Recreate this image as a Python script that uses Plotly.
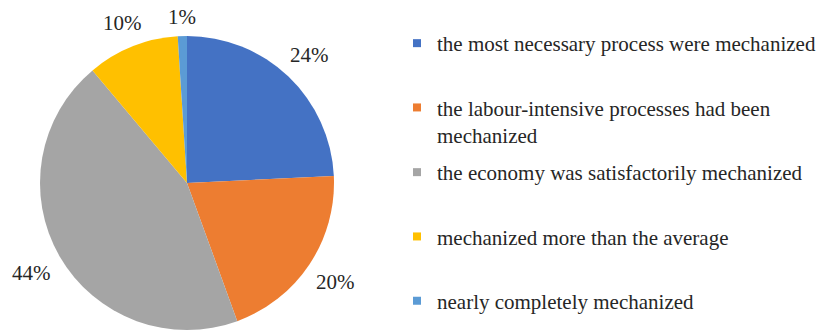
import math
import plotly.graph_objects as go

# ---- data ----
categories = [
    "the most necessary process were mechanized",
    "the labour-intensive processes had been mechanized",
    "the economy was satisfactorily mechanized",
    "mechanized more than the average",
    "nearly completely mechanized",
]
legend_labels = [
    "the most necessary process were mechanized",
    "the labour-intensive processes had been<br>mechanized",
    "the economy was satisfactorily mechanized",
    "mechanized more than the average",
    "nearly completely mechanized",
]
values = [24, 20, 44, 10, 1]
colors = ["#4472C4", "#ED7D31", "#A5A5A5", "#FFC000", "#5B9BD5"]
legend_ids = ["legend", "legend", "legend2", "legend2", "legend2"]

W, H = 825, 332
FONT = "Liberation Serif"
FSIZE = 21
TXT = "#262626"

dom_x = [40 / W, 334 / W]
dom_y = [1 - 330 / H, 1 - 36 / H]

fig = go.Figure()

fig.add_trace(go.Pie(
    labels=categories,
    values=values,
    marker=dict(colors=colors, line=dict(width=0)),
    sort=False,
    direction="clockwise",
    rotation=0,
    textinfo="none",
    showlegend=False,
    domain=dict(x=dom_x, y=dom_y),
    hoverinfo="label+percent",
))

# percentage labels placed outside the pie end, derived from the values
cx = W * (dom_x[0] + dom_x[1]) / 2
cy = H * (1 - (dom_y[0] + dom_y[1]) / 2)
r = min(W * (dom_x[1] - dom_x[0]), H * (dom_y[1] - dom_y[0])) / 2
total = sum(values)
gap, half_h = 12, 7
cum = 0.0
annotations = []
for v in values:
    mid = (cum + v / 2) / total * 2 * math.pi
    cum += v
    txt = f"{round(100 * v / total)}%"
    w = FSIZE * (0.5 * (len(txt) - 1) + 0.833)
    s, c = math.sin(mid), math.cos(mid)
    d = r + gap + abs(s) * w / 2 + abs(c) * half_h
    px, py = cx + d * s, cy - d * c
    annotations.append(dict(
        x=px / W, y=1 - py / H, xref="paper", yref="paper",
        text=txt, showarrow=False, xanchor="center", yanchor="middle",
        font=dict(family=FONT, size=FSIZE, color=TXT),
    ))

for lab, col, lid in zip(legend_labels, colors, legend_ids):
    fig.add_trace(go.Scatter(
        x=[None], y=[None], mode="markers",
        marker=dict(symbol="square", size=8, color=col),
        name=lab, legendgroup=lab, legend=lid, showlegend=True,
    ))

legend_common = dict(
    font=dict(family=FONT, size=FSIZE, color=TXT),
    bgcolor="rgba(0,0,0,0)",
    xanchor="left", yanchor="top",
    tracegroupgap=34,
    valign="top",
    itemclick=False, itemdoubleclick=False,
)

fig.update_layout(
    width=W, height=H,
    margin=dict(l=0, r=0, t=0, b=0),
    paper_bgcolor="white",
    plot_bgcolor="white",
    font=dict(family=FONT),
    xaxis=dict(visible=False),
    yaxis=dict(visible=False),
    annotations=annotations,
    legend=dict(x=397 / W, y=1 - 23 / H, **legend_common),
    legend2=dict(x=397 / W, y=1 - 152 / H, **legend_common),
)

fig.write_html("out.html")
